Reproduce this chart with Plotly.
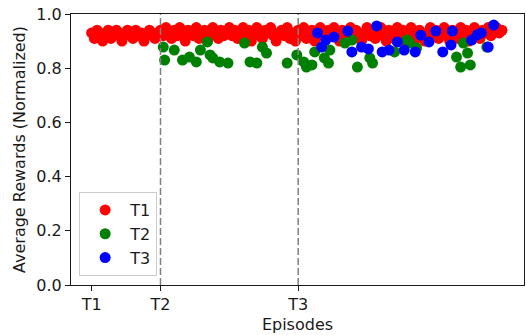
import plotly.graph_objects as go

# ---- data ----
tick_vals = [0, 50, 150]
tick_text = ["T1", "T2", "T3"]
task_starts = [50, 150]

red_x = [0, 2, 4, 6, 8, 10, 12, 14, 16, 18, 20, 22, 24, 26, 28, 30, 32, 34, 36, 38, 40, 42, 44, 46, 48,
         50, 52, 54, 56, 58, 60, 62, 64, 66, 68, 70, 72, 74, 76, 78, 80, 82, 84, 86, 88, 90, 92, 94, 96, 98,
         100, 102, 104, 106, 108, 110, 112, 114, 116, 118, 120, 122, 124, 126, 128, 130, 132, 134, 136, 138, 140, 142, 144, 146, 148,
         150, 152, 154, 156, 158, 160, 162, 164, 166, 168, 170, 172, 174, 176, 178, 180, 182, 184, 186, 188, 190, 192, 194, 196, 198,
         200, 202, 204, 206, 208, 210, 212, 214, 216, 218, 220, 222, 224, 226, 228, 230, 232, 234, 236, 238, 240, 242, 244, 246, 248,
         250, 252, 254, 256, 258, 260, 262, 264, 266, 268, 270, 272, 274, 276, 278, 280, 282, 284, 286, 288, 290, 292, 294, 296, 298]
red_y = [0.93, 0.91, 0.94, 0.92, 0.90, 0.93, 0.94, 0.91, 0.92, 0.94, 0.93, 0.90, 0.92, 0.94, 0.93, 0.91, 0.94, 0.92, 0.93, 0.90, 0.92, 0.94, 0.93, 0.91, 0.93,
         0.94, 0.92, 0.95, 0.93, 0.91, 0.94, 0.92, 0.95, 0.93, 0.90, 0.94, 0.93, 0.92, 0.95, 0.91, 0.93, 0.94, 0.90, 0.92, 0.95, 0.93, 0.91, 0.94, 0.92, 0.93,
         0.95, 0.92, 0.94, 0.91, 0.93, 0.95, 0.92, 0.94, 0.90, 0.93, 0.95, 0.92, 0.91, 0.94, 0.93, 0.95, 0.92, 0.90, 0.93, 0.94, 0.92, 0.95, 0.91, 0.93, 0.90,
         0.94, 0.92, 0.95, 0.91, 0.93, 0.94, 0.90, 0.92, 0.95, 0.93, 0.91, 0.94, 0.92, 0.95, 0.93, 0.90, 0.94, 0.92, 0.93, 0.95, 0.91, 0.94, 0.92, 0.90, 0.93,
         0.95, 0.92, 0.94, 0.91, 0.93, 0.95, 0.92, 0.90, 0.94, 0.93, 0.91, 0.95, 0.92, 0.94, 0.90, 0.93, 0.95, 0.92, 0.91, 0.94, 0.93, 0.90, 0.92, 0.95, 0.93,
         0.94, 0.91, 0.93, 0.95, 0.92, 0.90, 0.94, 0.93, 0.91, 0.95, 0.92, 0.94, 0.90, 0.93, 0.95, 0.92, 0.91, 0.94, 0.93, 0.95, 0.92, 0.94, 0.95, 0.93, 0.94]

green_x = [52, 53, 60, 66, 71, 76, 79, 84, 86, 88, 93, 99, 111, 115, 120, 124, 127, 142, 149,
           154, 156, 160, 162, 169, 172, 173, 184, 189, 193, 202, 204, 220, 229, 231, 236,
           265, 268, 270, 273, 275, 287]
green_y = [0.878, 0.830, 0.867, 0.830, 0.841, 0.823, 0.867, 0.897, 0.849, 0.838, 0.823, 0.819, 0.893, 0.823, 0.819, 0.878, 0.856, 0.819, 0.849,
           0.823, 0.804, 0.812, 0.860, 0.838, 0.819, 0.867, 0.893, 0.904, 0.804, 0.838, 0.819, 0.860, 0.904, 0.893, 0.875,
           0.841, 0.804, 0.893, 0.856, 0.812, 0.878]

blue_x = [164, 167, 170, 176, 186, 189, 196, 201, 207, 211, 216, 222, 227, 235, 239, 245, 250,
          255, 261, 262, 276, 280, 283, 288, 292]
blue_y = [0.930, 0.878, 0.904, 0.915, 0.937, 0.860, 0.878, 0.871, 0.956, 0.860, 0.867, 0.897, 0.867, 0.860, 0.922, 0.897, 0.937,
          0.860, 0.886, 0.937, 0.904, 0.923, 0.930, 0.878, 0.959]

series = [("T1", red_x, red_y, "#ff0000"),
          ("T2", green_x, green_y, "#008000"),
          ("T3", blue_x, blue_y, "#0000ff")]

FONT = "DejaVu Sans"
FS = 16

fig = go.Figure()
for name, xs, ys, col in series:
    fig.add_trace(go.Scatter(x=xs, y=ys, mode="markers", name=name,
                             marker=dict(color=col, size=11, line=dict(width=0))))

for xv in task_starts:
    fig.add_shape(type="line", x0=xv, x1=xv, y0=0, y1=1, xref="x", yref="paper",
                  line=dict(color="#808080", width=1.5, dash="7px,3px"), layer="above")

fig.update_layout(
    width=526, height=335,
    margin=dict(l=71, r=2, t=14, b=50),
    paper_bgcolor="white", plot_bgcolor="white",
    font=dict(family=FONT, size=FS, color="#1a1a1a"),
    showlegend=True,
    legend=dict(x=0.018, y=0.033, xanchor="left", yanchor="bottom",
                bgcolor="rgba(255,255,255,0.8)", bordercolor="#cccccc", borderwidth=1,
                font=dict(size=FS), itemwidth=40),
)
fig.update_xaxes(range=[-15, 314], tickvals=tick_vals, ticktext=tick_text,
                 showline=True, mirror=True, linecolor="#1a1a1a", linewidth=1,
                 ticks="outside", ticklen=5, tickcolor="#1a1a1a", showgrid=False, zeroline=False,
                 title=dict(text="Episodes", standoff=5, font=dict(size=FS)))
fig.update_yaxes(range=[0, 1.0], tickvals=[0, 0.2, 0.4, 0.6, 0.8, 1.0],
                 ticktext=["0.0", "0.2", "0.4", "0.6", "0.8", "1.0"],
                 showline=True, mirror=True, linecolor="#1a1a1a", linewidth=1,
                 ticks="outside", ticklen=5, tickcolor="#1a1a1a", showgrid=False, zeroline=False,
                 title=dict(text="Average Rewards (Normalized)", standoff=6, font=dict(size=FS)))

fig.write_html("out.html")
